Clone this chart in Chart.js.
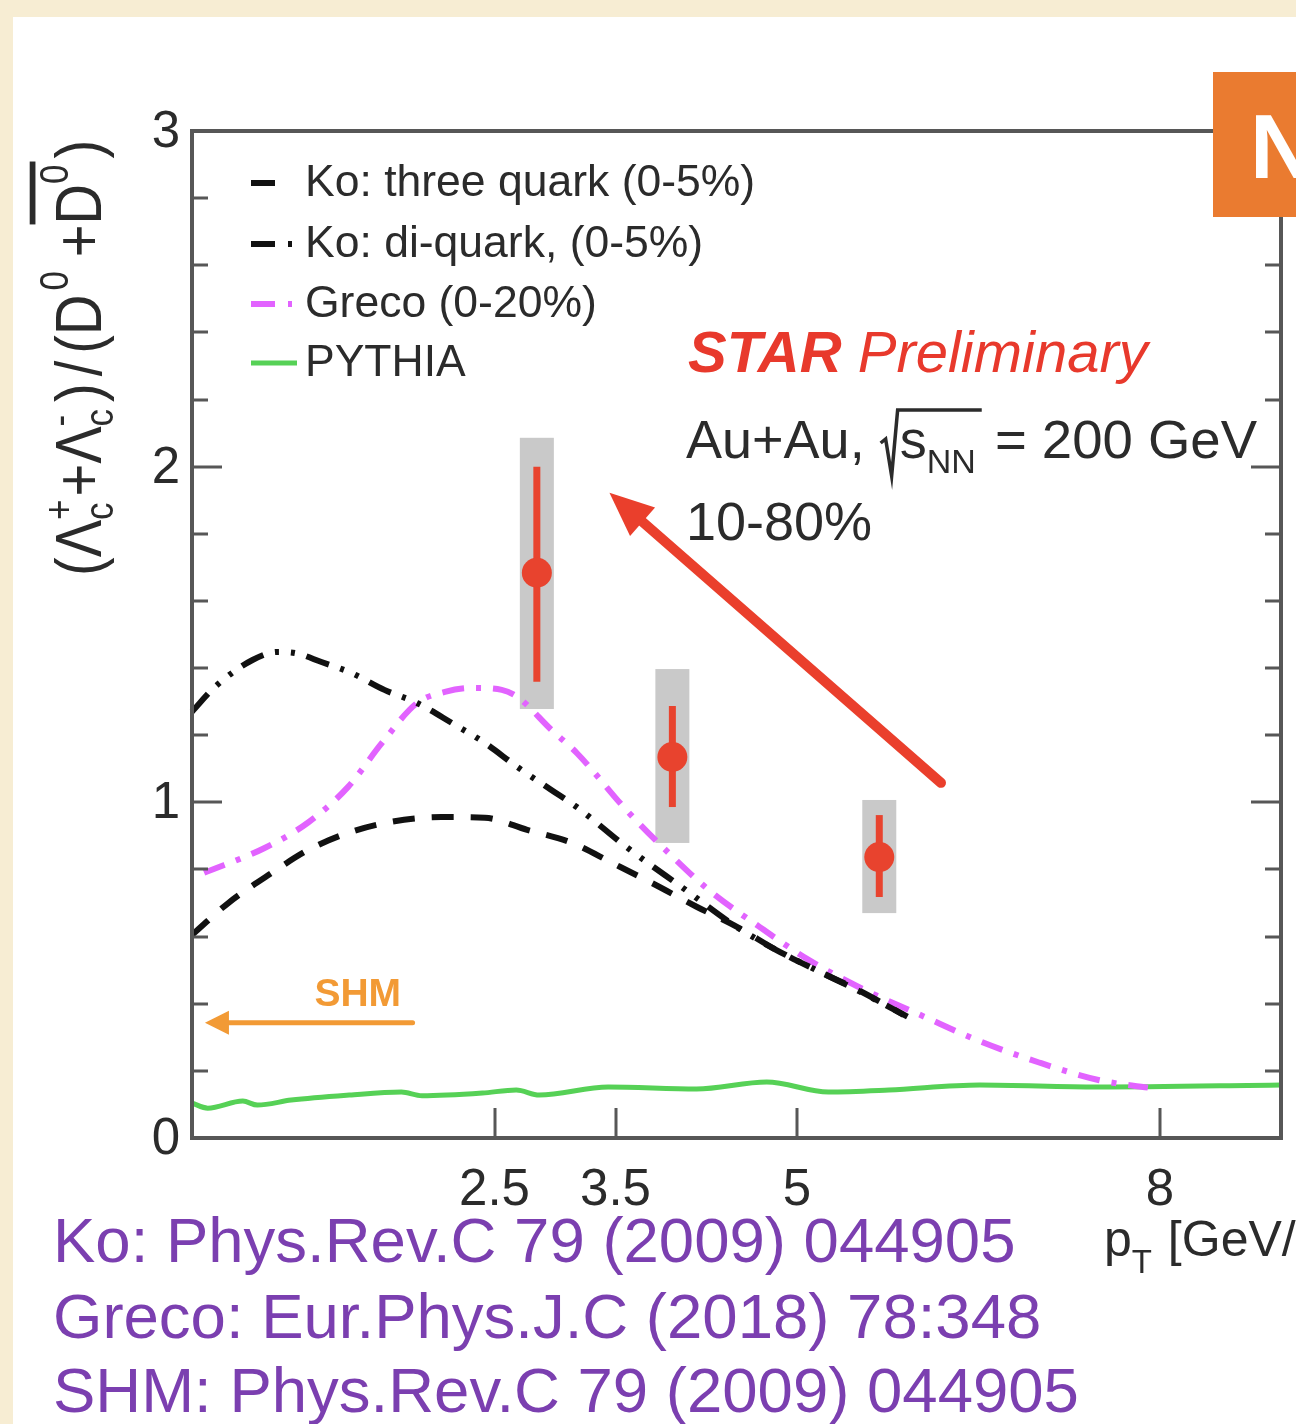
<!DOCTYPE html>
<html>
<head>
<meta charset="utf-8">
<script src="https://cdn.jsdelivr.net/npm/chart.js@4.4.1/dist/chart.umd.min.js"></script>
<style>
  html, body { margin: 0; padding: 0; background: #f7edd3; }
  canvas { display: block; }
</style>
</head>
<body>
<canvas id="c" width="1296" height="1424"></canvas>
<script>
// Lambda_c / D0 ratio vs pT, Au+Au 200 GeV, 10-80% — model curves and STAR points

// Ko: three-quark coalescence (0-5%)
const koThreeX = [0, 0.3, 0.66, 0.96, 1.29, 1.65, 2.06, 2.42, 2.77, 3.14, 3.47, 3.8, 4.17, 4.5, 4.83, 5.16, 5.51, 5.88];
const koThreeY = [0.605, 0.70, 0.79, 0.858, 0.909, 0.942, 0.956, 0.954, 0.918, 0.879, 0.82, 0.76, 0.689, 0.63, 0.56, 0.50, 0.44, 0.367];

// Ko: di-quark coalescence (0-5%)
const koDiX = [0, 0.19, 0.5, 0.71, 0.85, 1.07, 1.32, 1.59, 1.86, 2.15, 2.42, 2.69, 2.97, 3.18, 3.59, 4.08, 4.5, 4.83, 5.16, 5.5, 5.92];
const koDiY = [1.27, 1.344, 1.424, 1.448, 1.445, 1.418, 1.385, 1.335, 1.296, 1.236, 1.177, 1.105, 1.037, 0.986, 0.867, 0.739, 0.629, 0.56, 0.50, 0.44, 0.36];

// Greco (0-20%)
const grecoX = [0.1, 0.6, 0.96, 1.29, 1.57, 1.86, 2.09, 2.31, 2.56, 2.69, 2.97, 3.18, 3.59, 3.94, 4.27, 4.69, 5.10, 5.51, 6.06, 6.5, 7.0, 7.5, 7.9];
const grecoY = [0.79, 0.864, 0.94, 1.046, 1.177, 1.296, 1.329, 1.341, 1.335, 1.314, 1.216, 1.147, 0.977, 0.849, 0.739, 0.629, 0.53, 0.45, 0.36, 0.29, 0.225, 0.172, 0.15];

// PYTHIA
const pythiaX = [0, 0.13, 0.42, 0.54, 0.82, 1.30, 1.73, 1.9, 2.4, 2.68, 2.87, 3.44, 4.17, 4.75, 5.26, 5.76, 6.51, 7.48, 9];
const pythiaY = [0.104, 0.089, 0.11, 0.098, 0.113, 0.128, 0.137, 0.126, 0.134, 0.143, 0.128, 0.152, 0.146, 0.167, 0.137, 0.143, 0.158, 0.152, 0.158];

// STAR preliminary data points
const starX = [2.85, 3.97, 5.68];
const starY = [1.684, 1.135, 0.837];
const statLow = [1.359, 0.986, 0.718];
const statHigh = [2.0, 1.287, 0.962];
const sysLow = [1.278, 0.879, 0.670];
const sysHigh = [2.086, 1.397, 1.007];

// axis ticks
const xTickValues = [2.5, 3.5, 5, 8];
const xTickLabels = ['2.5', '3.5', '5', '8'];
const yTickValues = [0, 1, 2, 3];
const yTickLabels = ['0', '1', '2', '3'];
const yMinorStep = 0.2;

// annotation anchors (data units)
const trendArrowFrom = [6.19, 1.058];
const trendArrowTo = [3.45, 1.922];
const shmArrowFrom = [1.823, 0.343];
const shmArrowTo = [0.107, 0.343];
const shmLabelAt = [1.37, 0.4];

const refLines = [
  'Ko: Phys.Rev.C 79 (2009) 044905',
  'Greco: Eur.Phys.J.C (2018) 78:348',
  'SHM: Phys.Rev.C 79 (2009) 044905'
];

const FONT = '"Liberation Sans", Arial, Helvetica, sans-serif';
const INK = '#2b2b2b';
const RED = '#e8432e';
const MAGENTA = '#e263ff';
const GREEN = '#56d156';

const pts = (xs, ys) => xs.map((x, i) => ({ x, y: ys[i] }));

const curveDatasets = [
  { label: 'Ko: three quark (0-5%)', data: pts(koThreeX, koThreeY), borderColor: '#111', borderWidth: 6, borderDash: [22, 17], legendDash: [24, 200] },
  { label: 'Ko: di-quark, (0-5%)', data: pts(koDiX, koDiY), borderColor: '#111', borderWidth: 6, borderDash: [24, 12, 4, 12, 4, 12], legendDash: [24, 13, 4, 200] },
  { label: 'Greco (0-20%)', data: pts(grecoX, grecoY), borderColor: MAGENTA, borderWidth: 6, borderDash: [22, 12, 5, 12], legendDash: [24, 13, 4, 200] },
  { label: 'PYTHIA', data: pts(pythiaX, pythiaY), borderColor: GREEN, borderWidth: 5, borderDash: [], legendDash: [] }
].map(d => Object.assign(d, {
  showLine: true, pointRadius: 0, fill: false, cubicInterpolationMode: 'monotone',
  borderCapStyle: 'butt', borderJoinStyle: 'round', clip: false
}));

const starDataset = {
  label: 'STAR', data: pts(starX, starY), showLine: false,
  pointRadius: 15, pointBackgroundColor: RED, pointBorderWidth: 0, pointHoverRadius: 15, clip: false
};

function arrow(ctx, x0, y0, x1, y1, width, headLen, headHalf, color) {
  const a = Math.atan2(y1 - y0, x1 - x0);
  const bx = x1 - headLen * Math.cos(a), by = y1 - headLen * Math.sin(a);
  ctx.save();
  ctx.strokeStyle = color; ctx.fillStyle = color;
  ctx.lineWidth = width; ctx.lineCap = 'round';
  ctx.beginPath(); ctx.moveTo(x0, y0); ctx.lineTo(bx + 4 * Math.cos(a), by + 4 * Math.sin(a)); ctx.stroke();
  ctx.beginPath();
  ctx.moveTo(x1, y1);
  ctx.lineTo(bx + headHalf * Math.sin(a), by - headHalf * Math.cos(a));
  ctx.lineTo(bx - headHalf * Math.sin(a), by + headHalf * Math.cos(a));
  ctx.closePath(); ctx.fill();
  ctx.restore();
}

// draws a run of text pieces starting at x on a baseline, returns end x
function runText(ctx, x, y, pieces) {
  for (const p of pieces) {
    ctx.font = p.font;
    if (p.color) ctx.fillStyle = p.color;
    ctx.fillText(p.t, x, y + (p.dy || 0));
    x += ctx.measureText(p.t).width + (p.gap || 0);
  }
  return x;
}

const backdrop = {
  id: 'backdrop',
  beforeDraw(chart) {
    const ctx = chart.ctx;
    ctx.save();
    ctx.fillStyle = '#f7edd3';
    ctx.fillRect(0, 0, chart.width, chart.height);
    ctx.fillStyle = '#ffffff';
    ctx.fillRect(13, 17, chart.width - 13, chart.height - 17);
    ctx.restore();
  }
};

const uncertainties = {
  id: 'uncertainties',
  beforeDatasetDraw(chart, args) {
    if (args.index !== 4) return;
    const ctx = chart.ctx, xs = chart.scales.x, ys = chart.scales.y;
    ctx.save();
    // systematic boxes
    ctx.fillStyle = '#c9c9c9';
    starX.forEach((x, i) => {
      const px = xs.getPixelForValue(x);
      const top = ys.getPixelForValue(sysHigh[i]), bot = ys.getPixelForValue(sysLow[i]);
      ctx.fillRect(px - 17, top, 34, bot - top);
    });
    // statistical bars
    ctx.strokeStyle = RED; ctx.lineWidth = 7; ctx.lineCap = 'butt';
    starX.forEach((x, i) => {
      const px = xs.getPixelForValue(x);
      ctx.beginPath();
      ctx.moveTo(px, ys.getPixelForValue(statHigh[i]));
      ctx.lineTo(px, ys.getPixelForValue(statLow[i]));
      ctx.stroke();
    });
    ctx.restore();
  }
};

// y-axis title: (Λc+ + Λc-)/(D0 + anti-D0), written bottom to top
function drawYTitle(ctx) {
  ctx.save();
  ctx.fillStyle = INK;
  ctx.translate(101, 576);
  ctx.rotate(-Math.PI / 2);
  ctx.scale(1, 1.15);
  const big = '56px ' + FONT, sm = '35px ' + FONT;
  let x = 0;
  const put = (t, f, dy) => { ctx.font = f; ctx.fillText(t, x, dy || 0); return ctx.measureText(t).width; };
  const subSup = (sub, sup, gap) => {
    const w1 = put(sub, sm, 10), w2 = put(sup, sm, -24);
    x += Math.max(w1, w2) + gap;
  };
  x += put('(', big);
  x += put('Λ', big);
  subSup('c', '+', 3);
  x += put('+', big);
  x += put('Λ', big);
  subSup('c', '-', 7);
  x += put(')', big) + 7;
  x += put('/', big) + 7;
  x += put('(', big);
  x += put('D', big) + 4;
  x += put('0', sm, -29) + 14;
  x += put('+', big);
  const dStart = x;
  x += put('D', big);
  x += put('0', sm, -29);
  ctx.fillRect(dStart, -62, x - dStart + 3, 5);
  x += 6;
  put(')', big);
  ctx.restore();
}

const decorations = {
  id: 'decorations',
  afterDraw(chart) {
    const ctx = chart.ctx, xs = chart.scales.x, ys = chart.scales.y;
    const a = chart.chartArea;
    ctx.save();

    // frame
    ctx.strokeStyle = '#575757'; ctx.lineWidth = 4;
    ctx.strokeRect(a.left, a.top, a.right - a.left, a.bottom - a.top);

    // y ticks, both sides
    ctx.lineWidth = 3;
    for (let v = 0; v <= 3.0001; v += yMinorStep) {
      const py = Math.round(ys.getPixelForValue(v));
      const major = yTickValues.some(t => Math.abs(t - v) < 1e-6);
      const len = major ? 30 : 16;
      ctx.beginPath();
      ctx.moveTo(a.left, py); ctx.lineTo(a.left + len, py);
      ctx.moveTo(a.right, py); ctx.lineTo(a.right - len, py);
      ctx.stroke();
    }
    // x ticks
    xTickValues.forEach(v => {
      const px = Math.round(xs.getPixelForValue(v));
      ctx.beginPath(); ctx.moveTo(px, a.bottom); ctx.lineTo(px, a.bottom - 30); ctx.stroke();
    });

    // tick labels
    ctx.fillStyle = INK;
    ctx.font = '51px ' + FONT;
    ctx.textAlign = 'right'; ctx.textBaseline = 'middle';
    yTickValues.forEach((v, i) => ctx.fillText(yTickLabels[i], a.left - 12, ys.getPixelForValue(v) + 2));
    ctx.textAlign = 'center'; ctx.textBaseline = 'alphabetic';
    xTickValues.forEach((v, i) => ctx.fillText(xTickLabels[i], xs.getPixelForValue(v), 1205));

    // x title
    ctx.textAlign = 'left';
    runText(ctx, 1104, 1256, [
      { t: 'p', font: '50px ' + FONT },
      { t: 'T', font: '33px ' + FONT, dy: 17, gap: 2 },
      { t: ' [GeV/c]', font: '50px ' + FONT }
    ]);

    drawYTitle(ctx);

    // legend
    const rows = [183, 244, 304, 363];
    chart.data.datasets.slice(0, 4).forEach((d, i) => {
      const y = rows[i];
      ctx.save();
      ctx.strokeStyle = d.borderColor; ctx.lineWidth = d.borderWidth;
      ctx.setLineDash(d.legendDash); ctx.lineCap = 'butt';
      ctx.beginPath(); ctx.moveTo(251, y); ctx.lineTo(i === 3 ? 297 : 296, y); ctx.stroke();
      ctx.restore();
      ctx.fillStyle = INK; ctx.font = '44.5px ' + FONT; ctx.textBaseline = 'middle';
      ctx.fillText(d.label, 305, y + 1);
    });
    ctx.textBaseline = 'alphabetic';

    // STAR Preliminary
    runText(ctx, 688, 372, [
      { t: 'STAR ', font: 'italic bold 58px ' + FONT, color: '#e8392c' },
      { t: 'Preliminary', font: 'italic 58px ' + FONT, color: '#e8392c' }
    ]);

    // collision system
    ctx.fillStyle = INK;
    let tx = runText(ctx, 686, 458, [{ t: 'Au+Au, ', font: '54px ' + FONT }]);
    const rootX = tx;
    tx = runText(ctx, rootX + 20, 458, [
      { t: 's', font: '54px ' + FONT },
      { t: 'NN', font: '34px ' + FONT, dy: 15, gap: 4 }
    ]);
    ctx.save();
    ctx.strokeStyle = INK; ctx.lineWidth = 3.5; ctx.lineJoin = 'miter';
    ctx.beginPath();
    ctx.moveTo(rootX + 1, 443); ctx.lineTo(rootX + 6, 439);
    ctx.lineTo(rootX + 12, 476); ctx.lineTo(rootX + 18, 410); ctx.lineTo(tx + 2, 410);
    ctx.stroke();
    ctx.restore();
    runText(ctx, tx, 458, [{ t: ' = 200 GeV', font: '54.5px ' + FONT }]);
    runText(ctx, 686, 540, [{ t: '10-80%', font: '54px ' + FONT }]);

    // trend arrow
    arrow(ctx, xs.getPixelForValue(trendArrowFrom[0]), ys.getPixelForValue(trendArrowFrom[1]),
      xs.getPixelForValue(trendArrowTo[0]), ys.getPixelForValue(trendArrowTo[1]), 10, 44, 19, '#ea3f2c');

    // SHM arrow
    arrow(ctx, xs.getPixelForValue(shmArrowFrom[0]), ys.getPixelForValue(shmArrowFrom[1]),
      xs.getPixelForValue(shmArrowTo[0]), ys.getPixelForValue(shmArrowTo[1]), 5, 24, 12, '#f29a35');
    ctx.fillStyle = '#f29a35'; ctx.font = 'bold 39px ' + FONT; ctx.textAlign = 'center';
    ctx.fillText('SHM', xs.getPixelForValue(shmLabelAt[0]), ys.getPixelForValue(shmLabelAt[1]) + 2);
    ctx.textAlign = 'left';

    // corner badge
    ctx.fillStyle = '#ea7b30';
    ctx.fillRect(1213, 72, 90, 145);
    ctx.fillStyle = '#ffffff'; ctx.font = 'bold 90px ' + FONT;
    ctx.fillText('N', 1250, 178);

    // references
    ctx.fillStyle = '#7b3fb0'; ctx.font = '63.5px ' + FONT;
    [1262, 1338, 1412].forEach((y, i) => ctx.fillText(refLines[i], 53, y));

    ctx.restore();
  }
};

new Chart(document.getElementById('c'), {
  type: 'scatter',
  data: { datasets: [...curveDatasets, starDataset] },
  options: {
    responsive: false,
    animation: false,
    devicePixelRatio: 1,
    layout: { padding: { left: 192, top: 131, right: 13, bottom: 286 } },
    scales: {
      x: { type: 'linear', min: 0, max: 9, display: false },
      y: { type: 'linear', min: 0, max: 3, display: false }
    },
    plugins: { legend: { display: false }, tooltip: { enabled: false } }
  },
  plugins: [backdrop, uncertainties, decorations]
});
</script>
</body>
</html>
